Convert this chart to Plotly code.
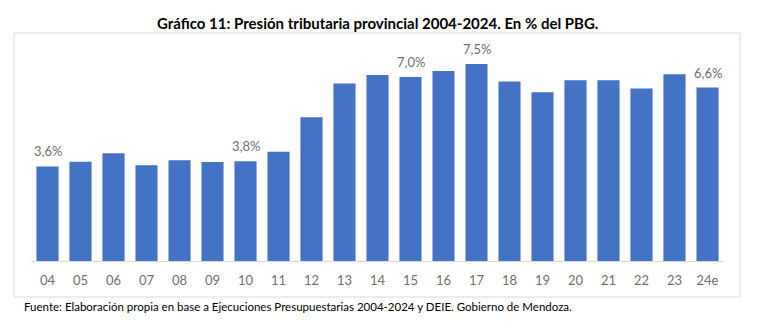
import plotly.graph_objects as go

# Provincial tax pressure, % of gross geographic product (PBG)
years = ["04", "05", "06", "07", "08", "09", "10", "11", "12", "13", "14",
         "15", "16", "17", "18", "19", "20", "21", "22", "23", "24e"]
pressure = [3.6, 3.78, 4.1, 3.64, 3.83, 3.77, 3.8, 4.16, 5.47, 6.75, 7.08,
            7.0, 7.23, 7.5, 6.83, 6.42, 6.88, 6.88, 6.56, 7.11, 6.6]
labeled_years = ["04", "10", "15", "17", "24e"]

FONT = "Lato"
GREY = "#6f6f6f"

fig = go.Figure(go.Bar(
    x=years,
    y=pressure,
    marker=dict(color="#4472C4", line=dict(width=0)),
    hoverinfo="skip",
))

# value labels above selected bars (decimal comma); category axis
# annotations are placed by category index
value_labels = [
    dict(x=i, y=v, xref="x", yref="y", text=f"{v:.1f}%".replace(".", ","),
         showarrow=False, yanchor="bottom", yshift=5,
         font=dict(family=FONT, size=13, color=GREY))
    for i, (y, v) in enumerate(zip(years, pressure)) if y in labeled_years
]

fig.update_layout(
    width=768, height=328,
    margin=dict(l=31, r=44, t=40, b=67),
    paper_bgcolor="white", plot_bgcolor="white",
    bargap=0.33,
    showlegend=False,
    font=dict(family=FONT, color=GREY),
    xaxis=dict(
        type="category",
        showline=True, linecolor="#d9d9d9", linewidth=1,
        showgrid=False, ticks="",
        ticklabelstandoff=7,
        tickfont=dict(family=FONT, size=13, color=GREY),
    ),
    yaxis=dict(range=[0, 8.41], visible=False, showgrid=False),
    shapes=[dict(
        type="rect", xref="paper", yref="paper",
        x0=-0.0245, x1=1.0231, y0=-0.1629, y1=1.0317,
        line=dict(color="#d9d9d9", width=1), layer="below",
    )],
    annotations=value_labels + [
        dict(text="<b>Gráfico 11: Presión tributaria provincial 2004-2024. En % del PBG.</b>",
             xref="paper", yref="paper", x=0.5, y=1.077,
             xanchor="center", yanchor="middle", showarrow=False,
             font=dict(family=FONT, size=15, color="black")),
        dict(text="Fuente: Elaboración propia en base a Ejecuciones Presupuestarias 2004-2024 y DEIE. Gobierno de Mendoza.",
             xref="paper", yref="paper", x=-0.013, y=-0.208,
             xanchor="left", yanchor="middle", showarrow=False,
             font=dict(family=FONT, size=11.5, color="black")),
    ],
)

fig.write_html("out.html")
